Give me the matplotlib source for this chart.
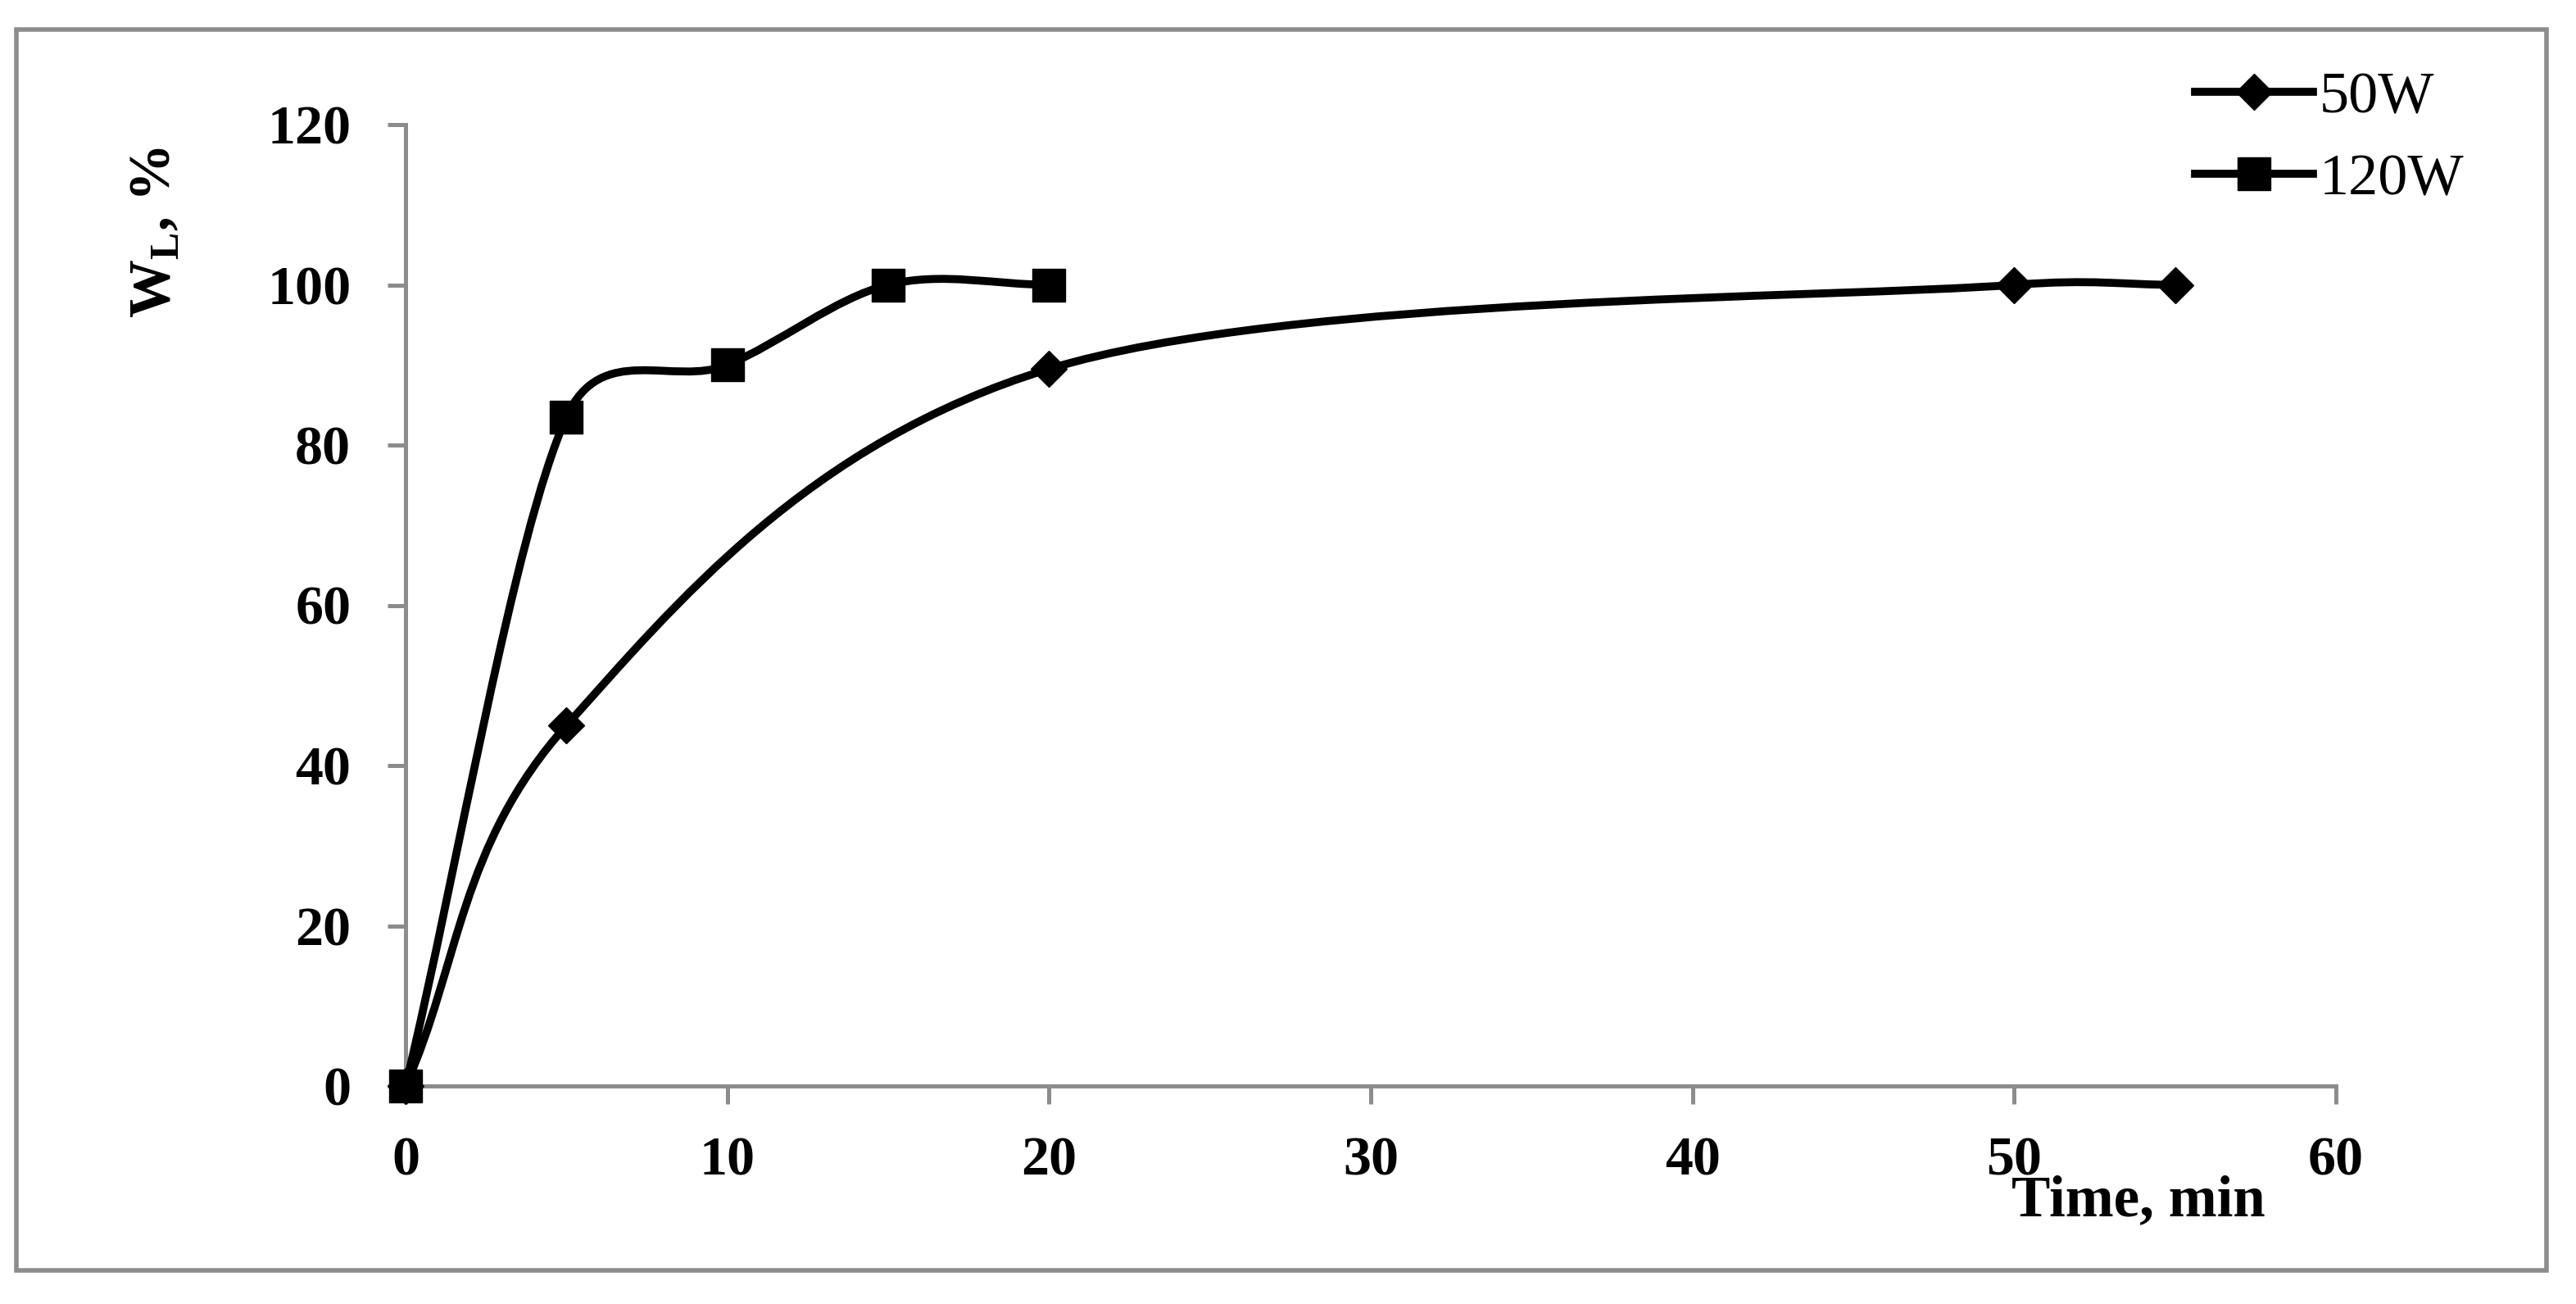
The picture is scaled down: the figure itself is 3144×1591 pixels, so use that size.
import numpy as np
import matplotlib
matplotlib.use("Agg")
import matplotlib.pyplot as plt
from matplotlib.path import Path
from matplotlib.patches import PathPatch, Rectangle
from matplotlib.lines import Line2D

# ---- data ----
series_names = ["50W", "120W"]
time_50w = [0, 5, 20, 50, 55]
wl_50w = [0, 45, 89.5, 100, 100]
time_120w = [0, 5, 10, 15, 20]
wl_120w = [0, 83.5, 90, 100, 100]
x_ticks = [0, 10, 20, 30, 40, 50, 60]
y_ticks = [0, 20, 40, 60, 80, 100, 120]

plt.rcParams['font.family'] = ['Liberation Serif', 'DejaVu Serif']

W, H, DPI = 3144, 1591, 100
fig = plt.figure(figsize=(W / DPI, H / DPI), dpi=DPI)
GRAY = '#8c8c8c'

# outer chart border
fig.patches.append(Rectangle((20 / W, 1 - 1550 / H), (3108 - 20) / W, (1550 - 36) / H,
                             transform=fig.transFigure, fill=False,
                             edgecolor=GRAY, linewidth=4))

left, right = 495 / W, 2851 / W
bottom, top = 1 - 1325 / H, 1 - 152 / H
ax = fig.add_axes([left, bottom, right - left, top - bottom])
ax.set_xlim(0, 60)
ax.set_ylim(0, 120)


def smooth_path(xs, ys):
    """Excel-style smoothed line (Bezier segments, tangents capped per segment)."""
    data = np.column_stack([xs, ys]).astype(float)
    pts = ax.transData.transform(data)  # work in display space
    n = len(pts)
    verts = [pts[0]]
    codes = [Path.MOVETO]
    for i in range(n - 1):
        p0 = pts[i - 1] if i > 0 else pts[i]
        p1 = pts[i]
        p2 = pts[i + 1]
        p3 = pts[i + 2] if i + 2 < n else pts[i + 1]
        d02 = np.linalg.norm(p2 - p0)
        d12 = np.linalg.norm(p2 - p1)
        d13 = np.linalg.norm(p3 - p1)
        f = 1 / 6.0 if i > 0 else 1 / 3.0
        g = 1 / 6.0 if i + 2 < n else 1 / 3.0
        if d02 * f > d12 / 2:
            f = d12 / 2 / d02
        if d13 * g > d12 / 2:
            g = d12 / 2 / d13
        c1 = p1 + (p2 - p0) * f
        c2 = p2 - (p3 - p1) * g
        verts += [c1, c2, p2]
        codes += [Path.CURVE4] * 3
    verts = ax.transData.inverted().transform(np.array(verts))
    return Path(verts, codes)


LW = 7.0
for xs, ys, mk, ms in [(time_50w, wl_50w, 'D', 22), (time_120w, wl_120w, 's', 29)]:
    ax.add_patch(PathPatch(smooth_path(xs, ys), facecolor='none', edgecolor='black',
                           linewidth=LW, capstyle='round', joinstyle='round', zorder=3,
                           clip_on=False))
    ax.plot(xs, ys, linestyle='none', marker=mk, markersize=ms, color='black',
            zorder=4, clip_on=False)

for s in ['top', 'right']:
    ax.spines[s].set_visible(False)
for s in ['left', 'bottom']:
    ax.spines[s].set_color(GRAY)
    ax.spines[s].set_linewidth(3.6)

ax.set_xticks(x_ticks)
ax.set_yticks(y_ticks)
ax.tick_params(axis='both', direction='out', length=16, width=3.6, color=GRAY,
               labelsize=49)
ax.tick_params(axis='x', pad=28)
ax.tick_params(axis='y', pad=32)
for lab in ax.get_xticklabels() + ax.get_yticklabels():
    lab.set_fontweight('bold')

fig.text(2610 / W, 1 - 1466 / H, 'Time, min', fontsize=51, fontweight='bold',
         ha='center', va='center')
fig.text(190 / W, 1 - 284 / H, r'W$_\mathregular{L}$, %', fontsize=51,
         fontweight='bold', rotation=90, ha='center', va='center')

handles = [Line2D([], [], color='black', lw=LW, marker='D', markersize=22),
           Line2D([], [], color='black', lw=LW, marker='s', markersize=29)]
leg = fig.legend(handles, series_names, loc='upper left',
                 bbox_to_anchor=(2614 / W, 1 - 22 / H), frameon=False,
                 fontsize=52, handlelength=2.0, handletextpad=0.1,
                 labelspacing=0.47)

fig.savefig('out.png', dpi=DPI, facecolor='white')
